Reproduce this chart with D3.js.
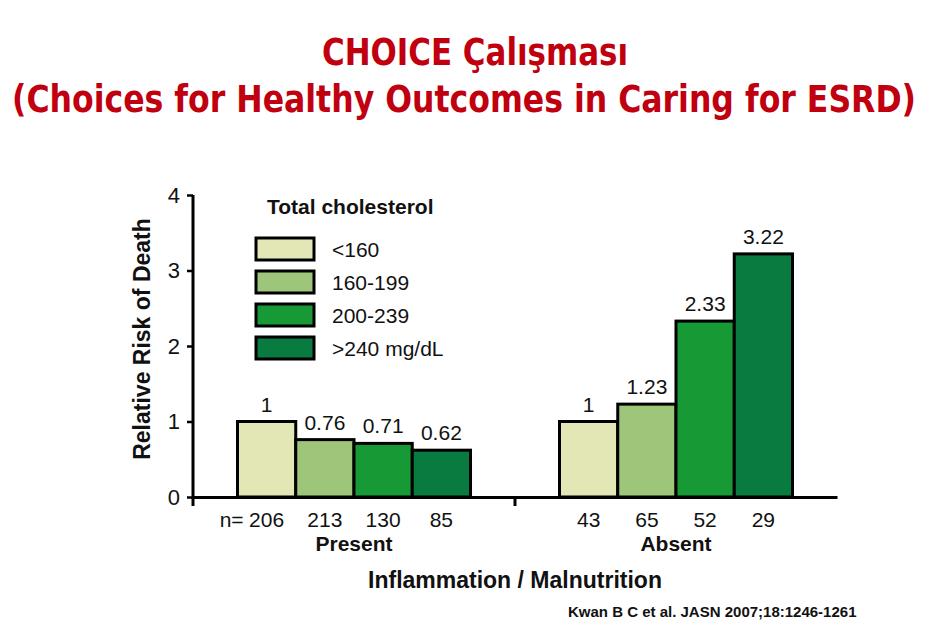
<!DOCTYPE html>
<html><head><meta charset="utf-8">
<script src="https://cdn.jsdelivr.net/npm/d3@7"></script>
<style>body{margin:0;background:#fff}svg{display:block}</style>
</head><body>
<svg id="c" width="944" height="638"></svg>
<script>
const groups = ["Present", "Absent"];
const series = ["<160", "160-199", "200-239", ">240 mg/dL"];
const valuesPresent = [1, 0.76, 0.71, 0.62];
const valuesAbsent = [1, 1.23, 2.33, 3.22];
const nPresent = [206, 213, 130, 85];
const nAbsent = [43, 65, 52, 29];
const valueLabelsPresent = ["1", "0.76", "0.71", "0.62"];
const valueLabelsAbsent = ["1", "1.23", "2.33", "3.22"];
const yTicks = [0, 1, 2, 3, 4];
const colors = ["#e3e7b5", "#9ec67a", "#179a36", "#097b40"];

const data = [
  {g: "Present", vals: valuesPresent, ns: nPresent, labs: valueLabelsPresent},
  {g: "Absent", vals: valuesAbsent, ns: nAbsent, labs: valueLabelsAbsent}
];

const svg = d3.select("#c");
const font = "'Liberation Sans', Arial, Helvetica, sans-serif";
const tfont = "'DejaVu Sans Condensed', 'DejaVu Sans', sans-serif";

// Title
svg.append("text").attr("transform", "translate(475,65) scale(1,1.2)").attr("text-anchor", "middle")
  .attr("font-family", tfont).attr("font-weight", "bold").attr("font-stretch", "condensed")
  .attr("font-size", 31).attr("fill", "#c0000f")
  .attr("textLength", 306).attr("lengthAdjust", "spacingAndGlyphs").text("CHOICE Çalışması");
svg.append("text").attr("transform", "translate(464,112) scale(1,1.2)").attr("text-anchor", "middle")
  .attr("font-family", tfont).attr("font-weight", "bold").attr("font-stretch", "condensed")
  .attr("font-size", 31).attr("fill", "#c0000f").attr("textLength", 904).attr("lengthAdjust", "spacingAndGlyphs")
  .text("(Choices for Healthy Outcomes in Caring for ESRD)");

const y = d3.scaleLinear().domain([0, 4]).range([497, 195]);
const x0 = d3.scaleBand().domain(groups).range([193, 837]).paddingInner(0).paddingOuter(0);
const x1 = d3.scaleBand().domain(series).range([-116.5, 116.5]);

// Bars
const gG = svg.append("g");
data.forEach(d => {
  const cx = x0(d.g) + x0.bandwidth() / 2;
  const g = gG.append("g").attr("transform", `translate(${cx},0)`);
  g.selectAll("rect").data(d.vals).join("rect")
    .attr("x", (v, i) => x1(series[i]))
    .attr("width", x1.bandwidth())
    .attr("y", v => y(v))
    .attr("height", v => y(0) - y(v))
    .attr("fill", (v, i) => colors[i])
    .attr("stroke", "#000").attr("stroke-width", 3);
  g.selectAll("text.val").data(d.vals).join("text").attr("class", "val")
    .attr("x", (v, i) => x1(series[i]) + x1.bandwidth() / 2)
    .attr("y", v => y(v) - 10)
    .attr("text-anchor", "middle").attr("font-family", font).attr("font-size", 21)
    .attr("fill", "#111").text((v, i) => d.labs[i]);
  g.selectAll("text.n").data(d.ns).join("text").attr("class", "n")
    .attr("x", (v, i) => x1(series[i]) + x1.bandwidth() / 2)
    .attr("y", 527)
    .attr("text-anchor", "middle").attr("font-family", font).attr("font-size", 21)
    .attr("fill", "#111").text(v => v);
  if (d.g === "Present") {
    g.append("text").attr("x", x1(series[0]) + x1.bandwidth() / 2 - 23).attr("y", 527)
      .attr("text-anchor", "end").attr("font-family", font).attr("font-size", 21)
      .attr("fill", "#111").text("n=");
  }
  g.append("text").attr("x", 0).attr("y", 551).attr("text-anchor", "middle")
    .attr("font-family", font).attr("font-weight", "bold").attr("font-size", 21)
    .attr("fill", "#111").text(d.g);
});

// Y axis
const yAxis = svg.append("g").attr("transform", "translate(193,0)")
  .call(d3.axisLeft(y).tickValues(yTicks).tickSize(6).tickPadding(7).tickFormat(d3.format("d")));
yAxis.select(".domain").attr("stroke", "#000").attr("stroke-width", 3).attr("d", "M0,195V499");
yAxis.selectAll(".tick line").attr("stroke", "#000").attr("stroke-width", 2.5);
yAxis.selectAll(".tick text").attr("font-family", font).attr("font-size", 22).attr("fill", "#111");

// X axis line and separator ticks
const xAxis = svg.append("g").attr("transform", "translate(0,497)")
  .call(d3.axisBottom(x0).tickValues([]).tickSizeOuter(0));
xAxis.select(".domain").attr("stroke", "#000").attr("stroke-width", 3);
const seps = [x0.range()[0], x0("Absent")];
svg.selectAll("line.sep").data(seps).join("line").attr("class", "sep")
  .attr("x1", d => d).attr("x2", d => d).attr("y1", 497).attr("y2", 506)
  .attr("stroke", "#000").attr("stroke-width", 3);

// Axis titles
svg.append("text").attr("transform", "translate(150,339) rotate(-90)").attr("text-anchor", "middle")
  .attr("font-family", font).attr("font-weight", "bold").attr("font-size", 23)
  .attr("fill", "#111").text("Relative Risk of Death");
svg.append("text").attr("x", 515).attr("y", 588).attr("text-anchor", "middle")
  .attr("font-family", font).attr("font-weight", "bold").attr("font-size", 23)
  .attr("fill", "#111").text("Inflammation / Malnutrition");

// Legend
svg.append("text").attr("x", 267).attr("y", 214).attr("font-family", font).attr("font-weight", "bold")
  .attr("font-size", 21).attr("fill", "#111").text("Total cholesterol");
const lg = svg.append("g");
lg.selectAll("rect").data(series).join("rect")
  .attr("x", 256).attr("y", (d, i) => 238 + i * 33).attr("width", 58).attr("height", 22)
  .attr("fill", (d, i) => colors[i]).attr("stroke", "#000").attr("stroke-width", 3);
lg.selectAll("text").data(series).join("text")
  .attr("x", 332).attr("y", (d, i) => 257 + i * 33)
  .attr("font-family", font).attr("font-size", 21).attr("fill", "#111").text(d => d);

// Citation
svg.append("text").attr("x", 568).attr("y", 617).attr("font-family", font).attr("font-weight", "bold")
  .attr("font-size", 15).attr("fill", "#111").text("Kwan B C et al. JASN 2007;18:1246-1261");
</script>
</body></html>
